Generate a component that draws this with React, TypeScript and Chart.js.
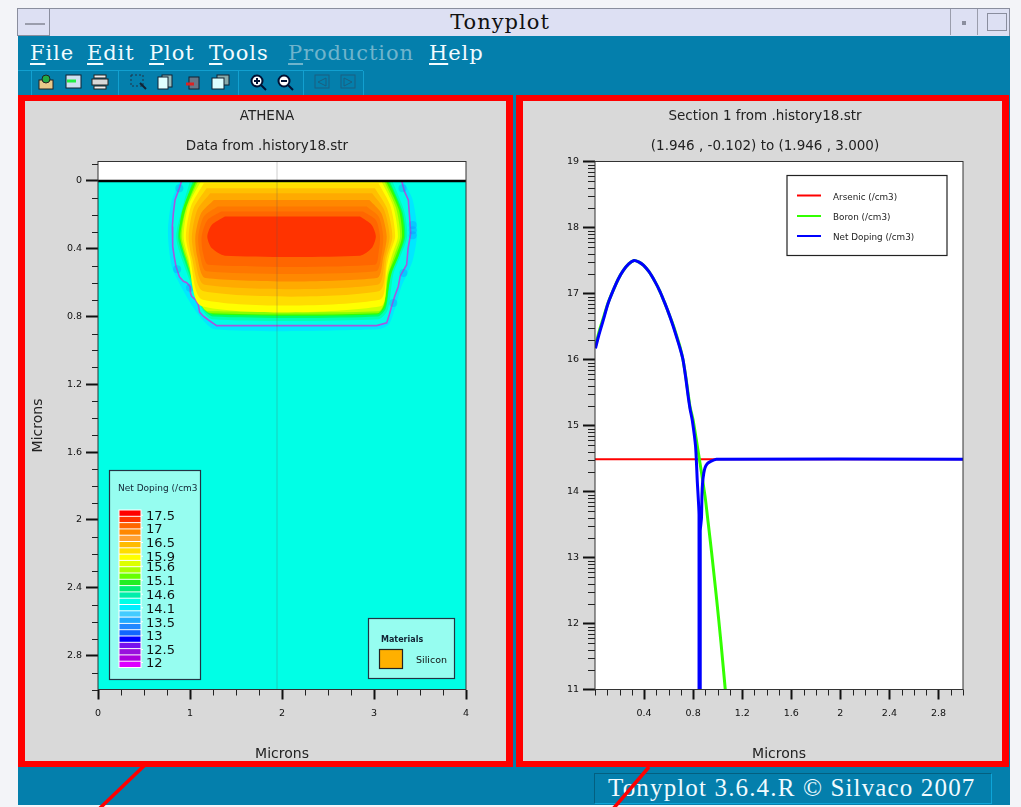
import React, { useEffect, useRef } from "react";
import { Chart, registerables } from "chart.js";

Chart.register(...registerables);

type Pt = [number, number];

// ---------- left panel: doping contours (microns) ----------
const mapXMajor = [0, 1, 2, 3, 4];
const mapXMinor = [0.25, 0.5, 0.75, 1.25, 1.5, 1.75, 2.25, 2.5, 2.75, 3.25, 3.5, 3.75];
const mapYMajor = [0, 0.4, 0.8, 1.2, 1.6, 2, 2.4, 2.8];
const mapYMinor = [-0.1, 0.1, 0.2, 0.3, 0.5, 0.6, 0.7, 0.9, 1, 1.1, 1.3, 1.4, 1.5, 1.7, 1.8, 1.9, 2.1, 2.2, 2.3, 2.5, 2.6, 2.7, 2.9, 3];

const substrate: Pt[] = [[0, 0], [4, 0], [4, 3], [0, 3]];
const glow: Pt[] = [[0.89, 0], [0.8, 0.12], [0.76, 0.3], [0.8, 0.5], [0.92, 0.64], [1.08, 0.78], [1.27, 0.875], [3.05, 0.875], [3.17, 0.84], [3.3, 0.62], [3.42, 0.47], [3.47, 0.3], [3.42, 0.11], [3.32, 0]];
const junction: Pt[] = [[0.909, 0], [0.884, 0.043], [0.837, 0.112], [0.819, 0.19], [0.808, 0.269], [0.812, 0.386], [0.83, 0.45], [0.848, 0.504], [0.885, 0.565], [0.928, 0.592], [0.965, 0.6], [1.0, 0.622], [1.005, 0.66], [1.018, 0.68], [1.06, 0.7], [1.09, 0.729], [1.105, 0.775], [1.145, 0.798], [1.2, 0.82], [1.29, 0.853], [3.029, 0.853], [3.138, 0.837], [3.165, 0.79], [3.192, 0.739], [3.225, 0.68], [3.264, 0.622], [3.285, 0.56], [3.355, 0.494], [3.37, 0.4], [3.399, 0.308], [3.385, 0.2], [3.373, 0.112], [3.33, 0.06], [3.301, 0]];
const junctionBlobs: Pt[] = [[3.42, 0.29], [3.42, 0.26], [3.42, 0.32], [3.21, 0.72], [3.31, 0.043], [3.32, 0.543], [0.884, 0.043], [0.86, 0.52], [1.0, 0.63]];
const level14: Pt[] = [[1.0, 0], [0.915, 0.16], [0.85, 0.327], [0.91, 0.46], [1.12, 0.745], [1.24, 0.815], [3.05, 0.815], [3.15, 0.76], [3.21, 0.55], [3.29, 0.44], [3.36, 0.327], [3.33, 0.18], [3.2, 0]];
const level13: Pt[] = [[1.03, 0], [0.93, 0.17], [0.87, 0.327], [0.93, 0.455], [1.14, 0.75], [1.25, 0.8], [3.04, 0.8], [3.13, 0.75], [3.18, 0.55], [3.27, 0.44], [3.34, 0.327], [3.31, 0.18], [3.17, 0]];
const level12: Pt[] = [[1.054, 0], [1.0, 0.053], [0.909, 0.19], [0.884, 0.327], [0.946, 0.445], [1.036, 0.563], [1.109, 0.661], [1.163, 0.749], [1.261, 0.788], [3.029, 0.788], [3.12, 0.743], [3.156, 0.641], [3.192, 0.543], [3.264, 0.445], [3.326, 0.327], [3.301, 0.19], [3.203, 0.053], [3.149, 0]];
const level11: Pt[] = [[1.07, 0], [0.95, 0.17], [0.895, 0.327], [0.95, 0.45], [1.13, 0.74], [1.22, 0.78], [3.04, 0.78], [3.11, 0.73], [3.16, 0.55], [3.24, 0.44], [3.305, 0.327], [3.27, 0.17], [3.13, 0]];
const level10: Pt[] = [[1.09, 0], [0.96, 0.16], [0.91, 0.327], [0.965, 0.45], [1.14, 0.745], [1.2, 0.769], [3.05, 0.769], [3.11, 0.72], [3.15, 0.56], [3.22, 0.44], [3.285, 0.327], [3.24, 0.16], [3.11, 0]];
const level9: Pt[] = [[1.12, 0], [0.98, 0.15], [0.93, 0.327], [0.98, 0.45], [1.13, 0.739], [3.07, 0.739], [3.14, 0.55], [3.2, 0.43], [3.26, 0.327], [3.21, 0.15], [3.08, 0]];
const level8: Pt[] = [[1.15, 0.014], [1.01, 0.15], [0.955, 0.327], [1.0, 0.45], [1.14, 0.7], [3.06, 0.7], [3.14, 0.5], [3.17, 0.43], [3.23, 0.327], [3.18, 0.15], [3.05, 0.014]];
const level7: Pt[] = [[1.18, 0.043], [1.04, 0.16], [0.985, 0.327], [1.02, 0.45], [1.15, 0.651], [3.05, 0.651], [3.14, 0.45], [3.2, 0.327], [3.14, 0.16], [3.01, 0.043]];
const level6: Pt[] = [[1.22, 0.073], [1.08, 0.17], [1.02, 0.327], [1.05, 0.45], [1.16, 0.612], [3.04, 0.612], [3.12, 0.45], [3.17, 0.327], [3.11, 0.17], [2.98, 0.073]];
const level5: Pt[] = [[1.26, 0.112], [1.12, 0.19], [1.058, 0.327], [1.08, 0.45], [1.17, 0.573], [3.03, 0.573], [3.1, 0.45], [3.138, 0.327], [3.08, 0.19], [2.95, 0.112]];
const level4: Pt[] = [[1.3, 0.151], [1.15, 0.21], [1.09, 0.327], [1.11, 0.44], [1.18, 0.533], [3.02, 0.533], [3.08, 0.44], [3.1, 0.327], [3.05, 0.21], [2.92, 0.151]];
const level3: Pt[] = [[1.34, 0.18], [1.19, 0.23], [1.127, 0.327], [1.14, 0.42], [1.2, 0.494], [3.01, 0.494], [3.05, 0.42], [3.065, 0.327], [3.02, 0.23], [2.88, 0.18]];
const level2: Pt[] = [[1.38, 0.21], [1.236, 0.259], [1.188, 0.327], [1.236, 0.396], [1.38, 0.441], [2.848, 0.441], [2.975, 0.396], [3.02, 0.327], [2.975, 0.259], [2.848, 0.21]];

const contourBands: [Pt[], string][] = [
  [level14, "#00ffb4"], [level13, "#00ff66"], [level12, "#33ff00"], [level11, "#88ff00"],
  [level10, "#ccff00"], [level9, "#ffff00"], [level8, "#ffdd00"], [level7, "#ffc000"],
  [level6, "#ffaa00"], [level5, "#ff8800"], [level4, "#ff7700"], [level3, "#ff6600"], [level2, "#ff3300"],
];
const sectionLine: Pt[] = [[1.946, -0.115], [1.946, 3]];
const surfaceLine: Pt[] = [[0, 0], [4, 0]];

const scaleColours = ["#ff0000", "#ff3300", "#ff6600", "#ff8800", "#ffa030", "#ffbb00", "#ffdd00", "#ffff00", "#ddff00", "#aaff00", "#66ff00", "#22ee22", "#00ee77", "#00eeaa", "#00ffe6", "#00eeff", "#44ccff", "#22aaff", "#2288ff", "#1166ff", "#0000ff", "#7711ee", "#9911dd", "#aa00dd", "#dd00ff"];
const scaleLabels = ["17.5", "17", "16.5", "15.9", "15.6", "15.1", "14.6", "14.1", "13.5", "13", "12.5", "12"];
const scaleLabelRows = [516.7, 529.3, 544, 557.7, 567.7, 581.7, 595.7, 609.3, 623.3, 636.7, 651, 664];

// ---------- right panel: section through the device ----------
const lineXMajor = [0.4, 0.8, 1.2, 1.6, 2, 2.4, 2.8];
const lineXMinor = [0, 0.1, 0.2, 0.3, 0.5, 0.6, 0.7, 0.9, 1, 1.1, 1.3, 1.4, 1.5, 1.7, 1.8, 1.9, 2.1, 2.2, 2.3, 2.5, 2.6, 2.7, 2.9, 3];
const lineYMajor = [11, 12, 13, 14, 15, 16, 17, 18, 19];
const decadeOffsets = [0.301, 0.477, 0.602, 0.699, 0.778, 0.845, 0.903, 0.954];

const arsenic: Pt[] = [[0, 14.49], [3, 14.49]];
const boron: Pt[] = [[0.004, 16.2], [0.03, 16.4], [0.068, 16.63], [0.105, 16.85], [0.149, 17.05], [0.19, 17.22], [0.231, 17.35], [0.275, 17.45], [0.318, 17.5], [0.355, 17.48], [0.394, 17.43], [0.44, 17.33], [0.489, 17.18], [0.53, 17.03], [0.57, 16.85], [0.605, 16.68], [0.638, 16.52], [0.665, 16.36], [0.693, 16.19], [0.717, 16.0], [0.74, 15.74], [0.758, 15.5], [0.775, 15.28], [0.8, 15.08], [0.856, 14.43], [0.897, 13.93], [0.923, 13.52], [0.951, 13.07], [0.992, 12.36], [1.027, 11.71], [1.062, 11]];
const netDoping: Pt[] = [[0.004, 16.17], [0.03, 16.36], [0.068, 16.6], [0.105, 16.84], [0.149, 17.05], [0.19, 17.22], [0.231, 17.35], [0.275, 17.45], [0.318, 17.5], [0.355, 17.48], [0.394, 17.43], [0.44, 17.33], [0.489, 17.18], [0.53, 17.03], [0.57, 16.85], [0.605, 16.68], [0.638, 16.5], [0.665, 16.34], [0.693, 16.17], [0.717, 16.0], [0.74, 15.72], [0.758, 15.46], [0.775, 15.25], [0.793, 15.08], [0.82, 14.68], [0.834, 14.15], [0.848, 13.65], [0.848, 11], [0.858, 11], [0.858, 13.4], [0.868, 13.6], [0.872, 13.95], [0.877, 14.13], [0.887, 14.28], [0.897, 14.36], [0.915, 14.42], [0.937, 14.45], [0.99, 14.49], [3, 14.49]];

const menuItems: [string, number][] = [["File", 30], ["Edit", 87], ["Plot", 149], ["Tools", 209], ["Production", 288], ["Help", 429]];
const toolbarSeparators = [31, 118, 238, 303, 363];

const sans = "'DejaVu Sans', sans-serif";
const toXY = (pts: Pt[]) => pts.map(([x, y]) => ({ x, y }));

function frame(chart: any, xMinor: number[], yMinor: number[], yMinorLong: number) {
  const { ctx, chartArea: a, scales } = chart;
  ctx.save();
  ctx.strokeStyle = "#222";
  ctx.lineWidth = 1;
  ctx.beginPath();
  xMinor.forEach((v) => {
    const p = Math.round(scales.x.getPixelForValue(v)) + 0.5;
    ctx.moveTo(p, a.bottom);
    ctx.lineTo(p, a.bottom + 6);
  });
  yMinor.forEach((v) => {
    const p = Math.round(scales.y.getPixelForValue(v)) + 0.5;
    ctx.moveTo(a.left, p);
    ctx.lineTo(a.left - yMinorLong, p);
  });
  ctx.stroke();
  ctx.strokeStyle = "#333";
  ctx.strokeRect(a.left, a.top, a.right - a.left, a.bottom - a.top);
  ctx.restore();
}

function axisOptions(major: number[], min: number, max: number, tickLength: number, padding: number, title: any, fit: (s: any) => void, reverse = false) {
  return {
    type: "linear" as const,
    min,
    max,
    reverse,
    afterBuildTicks: (s: any) => { s.ticks = major.map((value) => ({ value })); },
    afterFit: fit,
    grid: { drawOnChartArea: false, drawTicks: true, tickLength, tickColor: "#111", tickWidth: 2 },
    border: { display: false },
    ticks: {
      autoSkip: false,
      maxRotation: 0,
      padding,
      color: "#111",
      font: { family: sans, size: 9.5 },
      callback: (v: any) => String(v),
    },
    title,
  };
}

const axisTitle = (padding: any) => ({ display: true, text: "Microns", color: "#222", font: { family: sans, size: 14 }, padding });

// Empty right-hand scale: keeps the plot's right margin while the titles stay centred on the panel.
const marginScale = (width: number) => ({
  type: "linear" as const,
  position: "right" as const,
  grid: { display: false },
  border: { display: false },
  ticks: { display: false },
  afterFit: (s: any) => { s.width = width; },
});

const titles = (title: string, subtitle: string) => ({
  legend: { display: false },
  tooltip: { enabled: false },
  title: { display: true, text: title, color: "#222", font: { family: sans, size: 13.5, weight: "normal" as const }, padding: { top: 6.9, bottom: 13.8 } },
  subtitle: { display: true, text: subtitle, color: "#222", font: { family: sans, size: 13.5, weight: "normal" as const }, padding: { top: 0, bottom: 7.4 } },
});

const MenuLabel = ({ text, x }: { text: string; x: number }) => (
  <span style={{ position: "absolute", left: x, top: 41, font: "21px 'DejaVu Serif', serif", letterSpacing: 0.9, color: text === "Production" ? "#6fb4cc" : "#f2fbff", whiteSpace: "nowrap" }}>
    <span style={{ textDecoration: "underline", textUnderlineOffset: 3 }}>{text[0]}</span>{text.slice(1)}
  </span>
);

const Box = ({ s }: { s: React.CSSProperties }) => <div style={{ position: "absolute", boxSizing: "border-box", ...s }} />;

function ToolIcons() {
  return (
    <svg width={1021} height={30} style={{ position: "absolute", left: 0, top: 68 }}>
      <g transform="translate(38,6)"><rect x="1" y="6" width="14" height="9" fill="#e8c98a" stroke="#222" /><circle cx="8" cy="5" r="4" fill="#22aa44" stroke="#222" /></g>
      <g transform="translate(66,7)"><rect width="15" height="13" fill="#cfe0f0" stroke="#123" /><path d="M1 6h9" stroke="#22ee44" strokeWidth="3" /></g>
      <g transform="translate(92,7)"><rect y="4" width="16" height="6" fill="#d8d8d8" stroke="#222" /><rect x="2" y="0" width="12" height="3" fill="#eee" stroke="#222" /><rect x="2" y="11" width="12" height="3" fill="#eee" stroke="#222" /></g>
      <g transform="translate(131,7)"><rect width="12" height="11" fill="none" stroke="#234" strokeDasharray="2 2" /><path d="M9 8l6 6" stroke="#123" strokeWidth="2" /></g>
      <g transform="translate(158,7)"><rect x="4" width="10" height="12" fill="#9bb" stroke="#123" /><rect y="2" width="10" height="12" fill="#dff" stroke="#123" /></g>
      <g transform="translate(186,7)"><rect x="3" y="2" width="10" height="12" fill="#678" stroke="#123" /><path d="M0 9h8" stroke="#d22" strokeWidth="3" /></g>
      <g transform="translate(212,7)"><rect x="5" width="12" height="10" fill="#8aa" stroke="#123" /><rect y="3" width="12" height="11" fill="#dff" stroke="#123" /></g>
      <g transform="translate(250,6)"><circle cx="7" cy="7" r="5.5" fill="#fff" stroke="#013" strokeWidth="2" /><path d="M4 7h6M7 4v6" stroke="#013" strokeWidth="2" /><path d="M11 11l5 5" stroke="#013" strokeWidth="2" /></g>
      <g transform="translate(277,6)"><circle cx="7" cy="7" r="5.5" fill="#fff" stroke="#013" strokeWidth="2" /><path d="M4 7h6" stroke="#013" strokeWidth="2" /><path d="M11 11l5 5" stroke="#013" strokeWidth="2" /></g>
      <g transform="translate(315,7)"><rect width="14" height="13" fill="none" stroke="#1a5f80" /><path d="M11 3L3 7l8 4z" fill="none" stroke="#1a5f80" /></g>
      <g transform="translate(341,7)"><rect width="14" height="13" fill="none" stroke="#1a5f80" /><path d="M3 3l8 4-8 4z" fill="none" stroke="#1a5f80" /></g>
    </svg>
  );
}

export default function App() {
  const leftRef = useRef<HTMLCanvasElement>(null);
  const rightRef = useRef<HTMLCanvasElement>(null);

  useEffect(() => {
    const fillBand = (pts: Pt[], color: string, order: number, label: string, tension = 0.25) => ({
      label,
      data: toXY(pts),
      showLine: true,
      fill: "shape",
      backgroundColor: color,
      borderWidth: 0,
      pointRadius: 0,
      tension,
      order,
    });

    const leftPlugin = {
      id: "mapDecor",
      beforeDatasetsDraw(chart: any) {
        const { ctx, chartArea: a } = chart;
        ctx.fillStyle = "#fff";
        ctx.fillRect(a.left, a.top, a.right - a.left, a.bottom - a.top);
      },
      afterDatasetsDraw(chart: any) {
        const { ctx } = chart;
        frame(chart, mapXMinor, mapYMinor, 6);
        const ox = 25, oy = 101;
        ctx.save();
        ctx.textBaseline = "middle";
        ctx.textAlign = "left";
        // doping legend
        ctx.fillStyle = "#96fdf0";
        ctx.fillRect(109.5 - ox, 470.5 - oy, 91, 209);
        ctx.strokeStyle = "#234";
        ctx.lineWidth = 1.2;
        ctx.strokeRect(109.5 - ox, 470.5 - oy, 91, 209);
        ctx.fillStyle = "#123";
        ctx.font = `9px ${sans}`;
        ctx.fillText("Net Doping (/cm3", 118 - ox, 489 - oy);
        const top = 509.5, step = 6.3;
        ctx.fillStyle = "#fff";
        ctx.fillRect(118.5 - ox, top - oy, 23, step * scaleColours.length + 1);
        scaleColours.forEach((c, i) => {
          ctx.fillStyle = c;
          ctx.fillRect(119.5 - ox, top + i * step + 1 - oy, 21, step - 1);
        });
        ctx.fillStyle = "#111";
        ctx.font = `13px ${sans}`;
        scaleLabels.forEach((t, i) => {
          ctx.fillText(t, 146 - ox, scaleLabelRows[i] - oy);
          ctx.fillStyle = "#fff";
          ctx.fillRect(141 - ox, scaleLabelRows[i] - 2 - oy, 2, 1);
          ctx.fillStyle = "#111";
        });
        // materials legend
        ctx.fillStyle = "#96fdf0";
        ctx.fillRect(368.5 - ox, 618.5 - oy, 86, 60);
        ctx.strokeStyle = "#234";
        ctx.strokeRect(368.5 - ox, 618.5 - oy, 86, 60);
        ctx.fillStyle = "#123";
        ctx.font = `bold 8px ${sans}`;
        ctx.fillText("Materials", 381 - ox, 640 - oy);
        ctx.fillStyle = "#ffb000";
        ctx.fillRect(379.5 - ox, 649.5 - oy, 23, 19);
        ctx.strokeStyle = "#222";
        ctx.strokeRect(379.5 - ox, 649.5 - oy, 23, 19);
        ctx.fillStyle = "#111";
        ctx.font = `9.5px ${sans}`;
        ctx.fillText("Silicon", 416 - ox, 661 - oy);
        ctx.restore();
      },
    };

    const left = new Chart(leftRef.current!, {
      type: "scatter",
      data: {
        datasets: [
          { label: "Surface", data: toXY(surfaceLine), showLine: true, borderColor: "#000", borderWidth: 2.5, pointRadius: 0, order: 0 },
          { label: "Section", data: toXY(sectionLine), showLine: true, borderColor: "rgba(90,90,90,0.2)", borderWidth: 1.5, pointRadius: 0, order: 1 },
          ...contourBands.map(([pts, c], i) => fillBand(pts, c, 10 + contourBands.length - i, `Level ${c}`)).reverse(),
          { label: "Junction blobs", data: toXY(junctionBlobs), showLine: false, backgroundColor: "rgba(20,130,255,0.3)", pointRadius: 4, pointBorderWidth: 0, order: 30 },
          { ...fillBand(junction, "#00ffe6", 31, "Junction", 0), borderColor: "#a458e0", borderWidth: 1.6 },
          fillBand(glow, "#00e8ff", 32, "Halo"),
          fillBand(substrate, "#00ffe6", 40, "Silicon", 0),
        ] as any,
      },
      options: {
        animation: false,
        responsive: false,
        layout: { autoPadding: false, padding: 0 },
        plugins: titles("ATHENA", "Data from .history18.str") as any,
        scales: {
          x: axisOptions(mapXMajor, 0, 4, 10, 8, axisTitle({ top: 0, bottom: 0 }), (s) => { s.height = 73.5; }),
          y: axisOptions(mapYMajor, -0.115, 3, 12, 4, axisTitle({ top: 5, bottom: 0 }), (s) => { s.width = 73; }, true),
          margin: marginScale(43),
        } as any,
      },
      plugins: [leftPlugin],
    });

    const yMinorTicks: number[] = [];
    lineYMajor.slice(0, -1).forEach((d) => decadeOffsets.forEach((o) => yMinorTicks.push(d + o)));

    const rightPlugin = {
      id: "lineDecor",
      beforeDatasetsDraw(chart: any) {
        const { ctx, chartArea: a } = chart;
        ctx.fillStyle = "#fff";
        ctx.fillRect(a.left, a.top, a.right - a.left, a.bottom - a.top);
      },
      afterDatasetsDraw(chart: any) {
        const { ctx } = chart;
        frame(chart, lineXMinor, yMinorTicks, 7);
        const ox = 523, oy = 101;
        ctx.save();
        ctx.strokeStyle = "#222";
        ctx.lineWidth = 1.2;
        ctx.strokeRect(787 - ox, 175.5 - oy, 160, 80);
        ctx.textBaseline = "middle";
        ctx.textAlign = "left";
        ctx.font = `8.8px ${sans}`;
        [[0, 195.5], [1, 216], [2, 236]].forEach(([i, y]) => {
          const ds = chart.data.datasets[i];
          ctx.strokeStyle = ds.borderColor;
          ctx.lineWidth = 2;
          ctx.beginPath();
          ctx.moveTo(797 - ox, y - oy);
          ctx.lineTo(821 - ox, y - oy);
          ctx.stroke();
          ctx.fillStyle = "#222";
          ctx.fillText(ds.label, 833 - ox, y + 2 - oy);
        });
        ctx.restore();
      },
    };

    const right = new Chart(rightRef.current!, {
      type: "scatter",
      data: {
        datasets: [
          { label: "Arsenic (/cm3)", data: toXY(arsenic), showLine: true, borderColor: "#ff0000", borderWidth: 2, pointRadius: 0, order: 2 },
          { label: "Boron (/cm3)", data: toXY(boron), showLine: true, borderColor: "#33ff00", borderWidth: 3, pointRadius: 0, tension: 0.2, order: 1 },
          { label: "Net Doping (/cm3)", data: toXY(netDoping), showLine: true, borderColor: "#0000ff", borderWidth: 3, pointRadius: 0, tension: 0.2, order: 0 },
        ] as any,
      },
      options: {
        animation: false,
        responsive: false,
        layout: { autoPadding: false, padding: 0 },
        plugins: titles("Section 1 from .history18.str", "(1.946 , -0.102) to (1.946 , 3.000)") as any,
        scales: {
          x: axisOptions(lineXMajor, 0, 3, 10, 8, axisTitle({ top: 0, bottom: 0 }), (s) => { s.height = 73.5; }),
          y: axisOptions(lineYMajor, 11, 19, 12, 4, { display: false }, (s) => { s.width = 72; }),
          margin: marginScale(44),
        } as any,
      },
      plugins: [rightPlugin],
    });

    return () => {
      left.destroy();
      right.destroy();
    };
  }, []);

  const teal = "#047fac";
  return (
    <div style={{ position: "absolute", left: 0, top: 0, width: 1021, height: 807, background: "#f3f4f8", overflow: "hidden" }}>
      {/* title bar */}
      <Box s={{ left: 17, top: 8, width: 993, height: 28, background: "#dde0f3", borderTop: "1px solid #8a8e9e", borderLeft: "1px solid #8a8e9e", borderRight: "1px solid #8a8e9e" }} />
      <Box s={{ left: 17, top: 8, width: 33, height: 28, borderRight: "1px solid #8a8e9e", borderLeft: "1px solid #8a8e9e", borderBottom: "1px solid #8a8e9e" }} />
      <Box s={{ left: 25, top: 23, width: 20, height: 2, background: "#9a9dac" }} />
      <Box s={{ left: 950, top: 9, width: 28, height: 26, borderLeft: "1px solid #9a9dac", borderRight: "1px solid #9a9dac" }} />
      <Box s={{ left: 962, top: 21, width: 4, height: 4, background: "#8a8e9e" }} />
      <Box s={{ left: 987, top: 13, width: 20, height: 18, border: "1px solid #8a8e9e" }} />
      <div style={{ position: "absolute", left: 0, width: 1000, top: 10, textAlign: "center", font: "21px 'DejaVu Serif', serif", letterSpacing: 1, color: "#111" }}>Tonyplot</div>

      {/* application body */}
      <Box s={{ left: 18, top: 36, width: 992, height: 769, background: teal }} />
      {menuItems.map(([t, x]) => <MenuLabel key={t} text={t} x={x} />)}
      <Box s={{ left: 18, top: 70, width: 345, height: 1, background: "#12a0d0" }} />
      {toolbarSeparators.map((x) => <Box key={x} s={{ left: x, top: 71, width: 1, height: 24, background: "#12a0d0" }} />)}
      <ToolIcons />

      {/* panels */}
      <Box s={{ left: 18, top: 95, width: 495, height: 672, background: "#d9d9d9", borderStyle: "solid", borderColor: "#ff0000", borderWidth: "6px 7px 6px 7px" }} />
      <Box s={{ left: 516, top: 95, width: 493, height: 672, background: "#d9d9d9", borderStyle: "solid", borderColor: "#ff0000", borderWidth: "6px 7px 6px 7px" }} />
      <canvas ref={leftRef} width={484} height={662} style={{ position: "absolute", left: 25, top: 101, display: "block" }} />
      <canvas ref={rightRef} width={484} height={662} style={{ position: "absolute", left: 523, top: 101, display: "block" }} />

      {/* status */}
      <Box s={{ left: 594, top: 773, width: 398, height: 31, borderStyle: "solid", borderWidth: 1, borderColor: "#035f80 #0ea5d8 #0ea5d8 #035f80" }} />
      <div style={{ position: "absolute", left: 608, top: 774, font: "25px 'Liberation Serif', serif", letterSpacing: 1.15, color: "#f0fbff", whiteSpace: "nowrap" }}>Tonyplot 3.6.4.R © Silvaco 2007</div>

      {/* annotation strokes */}
      <svg width={1021} height={807} style={{ position: "absolute", left: 0, top: 0, pointerEvents: "none" }}>
        <line x1={147} y1={763} x2={99} y2={809} stroke="#ff0000" strokeWidth={3.5} />
        <line x1={649} y1={767} x2={613} y2={809} stroke="#ff0000" strokeWidth={3.5} />
      </svg>
    </div>
  );
}
